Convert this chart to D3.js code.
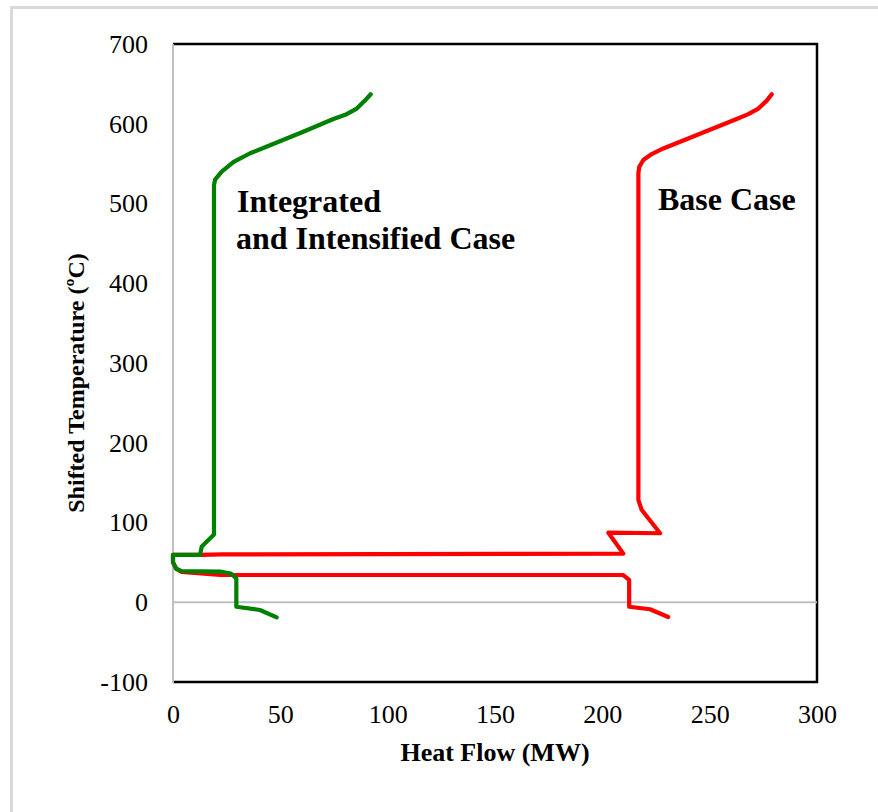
<!DOCTYPE html>
<html>
<head>
<meta charset="utf-8">
<script src="https://cdn.jsdelivr.net/npm/d3@7"></script>
<style>
  body { margin: 0; background: #fff; }
  svg { display: block; }
</style>
</head>
<body>
<div id="main-chart"></div>
<script>
// heat flow (MW) and shifted temperature (ºC)
const integratedFlow = [92.1, 89.4, 85.6, 80.9, 74.7, 60.7, 45.2, 35.9, 28.1, 22.7, 19.6, 19.1,
  19.1, 13.4, 12.6, 0, 0, 1.5, 4, 22, 27, 29.5, 29.5, 40.5, 48.3];
const integratedTemp = [637, 629, 619, 612, 606, 590, 573, 563, 552, 540, 530, 523,
  85, 70, 59.5, 59.5, 50, 42, 39, 38.5, 36, 30, -5.6, -9.7, -19];

const baseFlow = [278.9, 276.6, 272.7, 268, 262.6, 228.4, 223, 219.1, 217.2, 216.8,
  216.8, 218.3, 226.9, 202.8, 209.8, 23, 12.6, 0, 0, 1.5, 4, 22, 209.6, 212.5, 212.5, 222.2, 230.7];
const baseTemp = [637, 629, 619, 612, 606, 569, 562, 554.5, 546, 538,
  128, 116, 86.5, 87.2, 61, 60, 59.5, 59.5, 50, 42, 38, 34.2, 34.2, 28, -5.6, -8.8, -18.5];

const xTicks = [0, 50, 100, 150, 200, 250, 300];
const yTicks = [-100, 0, 100, 200, 300, 400, 500, 600, 700];

const width = 878;
const height = 812;
const margin = { top: 44, right: 61, bottom: 130, left: 173 };
const serif = "'Liberation Serif', 'Times New Roman', serif";

const svg = d3
  .select("#main-chart")
  .append("svg")
  .attr("width", width)
  .attr("height", height);

// outer chart frame (only top and left edges are inside the picture)
svg
  .append("path")
  .attr("d", `M11.5,${height} V7.5 H${width}`)
  .attr("fill", "none")
  .attr("stroke", "#d9d9d9")
  .attr("stroke-width", 3);

const x = d3
  .scaleLinear()
  .domain([0, 300])
  .range([margin.left, width - margin.right]);

const y = d3
  .scaleLinear()
  .domain([-100, 700])
  .range([height - margin.bottom, margin.top]);

// plot border: black on top, right and bottom
svg
  .append("path")
  .attr("d", `M${x(0)},${y(700)} H${x(300)} V${y(-100)} H${x(0)}`)
  .attr("fill", "none")
  .attr("stroke", "#000")
  .attr("stroke-width", 2.5);

// grey axis lines at x = 0 and y = 0
svg
  .append("line")
  .attr("x1", x(0))
  .attr("x2", x(0))
  .attr("y1", y(700))
  .attr("y2", y(-100) + 1)
  .attr("stroke", "#bfbfbf")
  .attr("stroke-width", 2);

svg
  .append("line")
  .attr("x1", x(0))
  .attr("x2", x(300))
  .attr("y1", y(0))
  .attr("y2", y(0))
  .attr("stroke", "#bfbfbf")
  .attr("stroke-width", 2);

function xAxis(g) {
  g.attr("transform", `translate(0, ${y(-100)})`)
    .call(d3.axisBottom(x).tickValues(xTicks).tickSize(0).tickPadding(23).tickFormat((d) => String(d)))
    .call((g) => g.select(".domain").remove());
}

function yAxis(g) {
  g.attr("transform", `translate(${x(0)}, 0)`)
    .call(d3.axisLeft(y).tickValues(yTicks).tickSize(0).tickPadding(25).tickFormat((d) => String(d)))
    .call((g) => g.select(".domain").remove());
}

svg.append("g").call(xAxis);
svg.append("g").call(yAxis);

svg
  .selectAll(".tick text")
  .attr("font-family", serif)
  .attr("font-size", "26px")
  .attr("fill", "#000");

const line = d3
  .line()
  .x((d) => x(d[0]))
  .y((d) => y(d[1]));

const basePts = d3.zip(baseFlow, baseTemp);
const integratedPts = d3.zip(integratedFlow, integratedTemp);

svg
  .append("path")
  .datum(basePts)
  .attr("d", line)
  .attr("fill", "none")
  .attr("stroke", "#ff0000")
  .attr("stroke-width", 4.2)
  .attr("stroke-linejoin", "round")
  .attr("stroke-linecap", "round");

svg
  .append("path")
  .datum(integratedPts)
  .attr("d", line)
  .attr("fill", "none")
  .attr("stroke", "#008000")
  .attr("stroke-width", 4.2)
  .attr("stroke-linejoin", "round")
  .attr("stroke-linecap", "round");

// axis titles
svg
  .append("text")
  .attr("x", 495)
  .attr("y", 761)
  .attr("text-anchor", "middle")
  .attr("font-family", serif)
  .attr("font-weight", "bold")
  .attr("font-size", "26px")
  .text("Heat Flow (MW)");

svg
  .append("text")
  .attr("transform", "translate(84, 383) rotate(-90)")
  .attr("text-anchor", "middle")
  .attr("font-family", serif)
  .attr("font-weight", "bold")
  .attr("font-size", "24px")
  .text("Shifted Temperature  (ºC)");

// case labels
const labels = [
  { text: "Integrated", x: 237, y: 212 },
  { text: "and Intensified Case", x: 236, y: 249 },
  { text: "Base Case", x: 658, y: 210 },
];

svg
  .selectAll(".case-label")
  .data(labels)
  .join("text")
  .attr("class", "case-label")
  .attr("x", (d) => d.x)
  .attr("y", (d) => d.y)
  .attr("font-family", serif)
  .attr("font-weight", "bold")
  .attr("font-size", "32px")
  .text((d) => d.text);
</script>
</body>
</html>
